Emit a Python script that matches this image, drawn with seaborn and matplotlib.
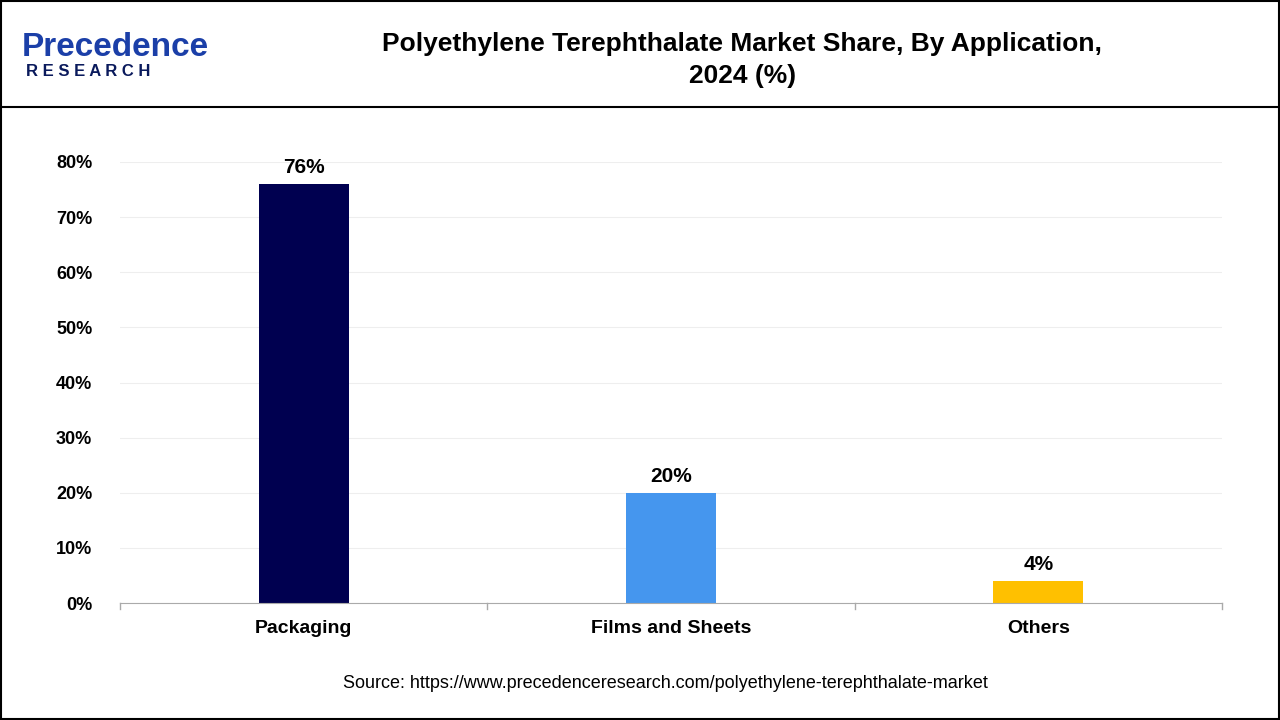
import matplotlib
matplotlib.use("Agg")
import matplotlib.pyplot as plt
import seaborn as sns
import pandas as pd
from matplotlib.patches import Rectangle
from matplotlib.lines import Line2D

categories = ["Packaging", "Films and Sheets", "Others"]
values = [76, 20, 4]
colors = ["#000050", "#4596EE", "#FFC000"]
yticks = [0, 10, 20, 30, 40, 50, 60, 70, 80]

df = pd.DataFrame({"cat": categories, "val": values})
plt.rcParams["font.family"] = "Liberation Sans"
fig = plt.figure(figsize=(12.8, 7.2), dpi=100)
ax = fig.add_axes([120/1280, 1-603/720, 1102/1280, 441/720])
sns.barplot(data=df, x="cat", y="val", hue="cat", palette=colors, width=0.245, ax=ax, legend=False, saturation=1)
ax.set_ylim(0, 80)
ax.set_yticks(yticks)
ax.set_yticklabels([f"{t}%" for t in yticks], fontsize=13, fontweight="bold")
ax.set_xlim(-0.5, 2.5)
ax.set_xlabel(""); ax.set_ylabel("")
for lbl in ax.get_xticklabels():
    lbl.set_fontsize(14); lbl.set_fontweight("bold")
ax.grid(axis="y", color="#eeeeee", linewidth=0.8)
ax.set_axisbelow(True)
for s in ["top", "right", "left"]:
    ax.spines[s].set_visible(False)
ax.spines["bottom"].set_color("#aaaaaa")
ax.tick_params(axis="y", length=0, pad=20)
ax.tick_params(axis="x", length=0, pad=12)
for x in [-0.5, 0.5, 1.5, 2.5]:
    ax.plot([x, x], [0, -1], color="#aaaaaa", lw=1, clip_on=False)
for i, v in enumerate(values):
    ax.text(i, v + 1.2, f"{v}%", ha="center", va="bottom", fontsize=15, fontweight="bold")

fig.patches.append(Rectangle((0.001, 0.001), 0.998, 0.998, transform=fig.transFigure, fill=False, edgecolor="black", lw=1.5))
fig.lines.append(Line2D([0, 1], [1-107/720, 1-107/720], transform=fig.transFigure, color="black", lw=1.5))
fig.text(0.58, 1-60/720, "Polyethylene Terephthalate Market Share, By Application,\n2024 (%)",
         ha="center", va="center", fontsize=19, fontweight="bold", linespacing=1.4)
fig.text(22/1280, 1-48/720, "Precedence", fontsize=24, color="#1B3FA8", fontweight="bold", va="center", ha="left")
fig.text(26/1280, 1-71/720, "R E S E A R C H", fontsize=12, color="#0A1A5C", fontweight="bold", va="center", ha="left")
fig.text(0.52, 1-684/720, "Source: https://www.precedenceresearch.com/polyethylene-terephthalate-market",
         ha="center", va="center", fontsize=13)
fig.savefig("out.png", dpi=100)
